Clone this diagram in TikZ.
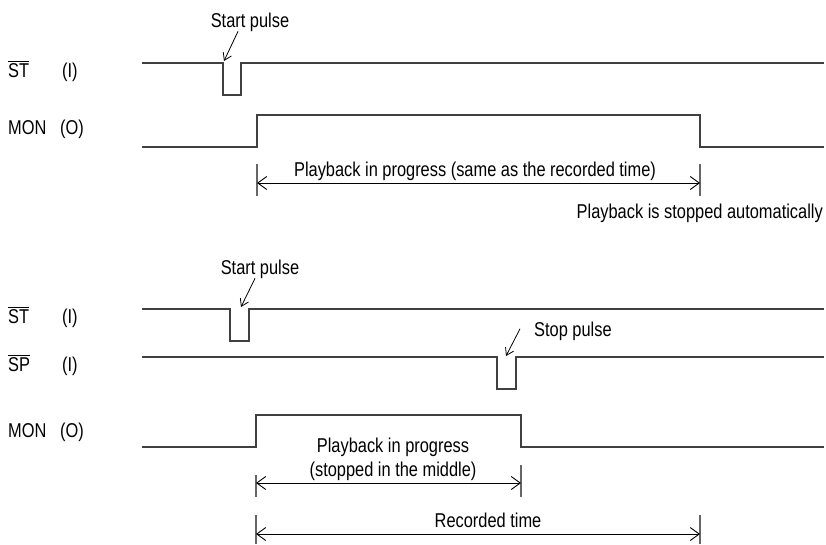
\documentclass[tikz,border=0pt]{standalone}
\usepackage{fontspec}
\setmainfont{Liberation Sans}[FakeStretch=0.82]
\usetikzlibrary{arrows.meta}

\begin{document}
\begin{tikzpicture}[x=1pt,y=-1pt]
% STYLES
\tikzset{%
    wave/.style={line width=1.3pt,black!75},
    sig/.style={anchor=base west,inner sep=0pt,font=\fontsize{20}{24}\selectfont},
    note/.style={anchor=base,inner sep=0pt,font=\fontsize{20}{24}\selectfont},
    pointer/.style={-{Straight Barb[length=7pt,width=9pt]},line width=0.8pt},
    span/.style={{Straight Barb[length=9pt,width=13pt]}-{Straight Barb[length=9pt,width=13pt]},line width=0.9pt},
    tick/.style={line width=1.2pt,black!60}
}
\useasboundingbox (0,0) rectangle (826,544);

% Upper chart: playback runs to the end
\node[sig] (st1) at (8,77) {$\overline{\mbox{ST}}$};
\node[sig] (st1dir) at (62,77) {(I)};
\node[sig] (mon1) at (8,134) {MON};
\node[sig] (mon1dir) at (60,134) {(O)};
% waveforms
\draw[wave] (142,63) -| (223,95) -| (241,63) -- (824,63);
\draw[wave] (142,147) -| (257,115) -| (700,147) -- (824,147);
% start pulse
\node[note] (start1) at (250,27) {Start pulse};
\coordinate (start1tip) at (224,61);
\draw[pointer] ([xshift=-12pt]start1.south) -- (start1tip);
% playback time
\draw[tick] (257,164) -- (257,196);
\draw[tick] (700,164) -- (700,196);
\coordinate (play1a) at (257,183);
\coordinate (play1b) at (700,183);
\draw[span] (play1a) -- (play1b);
\node[note] (play1) at (475,176) {Playback in progress (same as the recorded time)};
\node[note,anchor=base east] (auto1) at (823,218) {Playback is stopped automatically};

% Lower chart: playback stopped by SP
\node[sig] (st2) at (8,323) {$\overline{\mbox{ST}}$};
\node[sig] (st2dir) at (62,323) {(I)};
\node[sig] (sp2) at (8,371) {$\overline{\mbox{SP}}$};
\node[sig] (sp2dir) at (62,371) {(I)};
\node[sig] (mon2) at (8,437) {MON};
\node[sig] (mon2dir) at (60,437) {(O)};
% waveforms
\draw[wave] (142,309) -| (230,341) -| (249,309) -- (824,309);
\draw[wave] (142,357) -| (497,389) -| (516,357) -- (824,357);
\draw[wave] (142,447) -| (256,415) -| (521,447) -- (824,447);
% start and stop pulses
\node[note] (start2) at (260,274) {Start pulse};
\coordinate (start2tip) at (241,307);
\draw[pointer] ([xshift=-5pt]start2.south) -- (start2tip);
\node[note,anchor=base west] (stop2) at (534,336) {Stop pulse};
\coordinate (stop2tip) at (506,356);
\draw[pointer] ([xshift=-14pt,yshift=2pt]stop2.west) -- (stop2tip);
% playback time
\draw[tick] (256,475) -- (256,497);
\draw[tick] (521,465) -- (521,497);
\coordinate (play2a) at (256,483);
\coordinate (play2b) at (521,483);
\draw[span] (play2a) -- (play2b);
\node[note,align=center,anchor=north] (play2) at (393,438) {Playback in progress\\(stopped in the middle)};
% recorded time
\draw[tick] (256,515) -- (256,544);
\draw[tick] (700,515) -- (700,544);
\coordinate (rec2a) at (256,534);
\coordinate (rec2b) at (700,534);
\draw[span] (rec2a) -- (rec2b);
\node[note] (rec2) at (488,527) {Recorded time};
\end{tikzpicture}
\end{document}
